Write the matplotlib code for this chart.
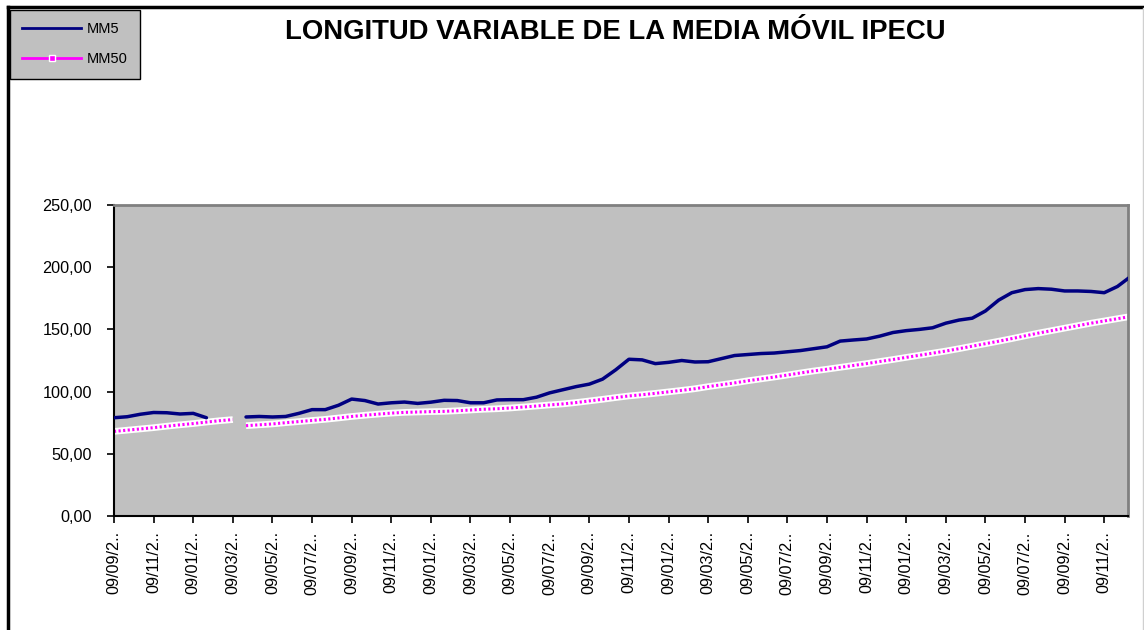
import numpy as np
import matplotlib
matplotlib.use('Agg')
import matplotlib.pyplot as plt
from matplotlib.lines import Line2D

plt.rcParams['font.family'] = ['Liberation Sans', 'DejaVu Sans']

# %% data (3 samples per 2-month tick)
mm5 = [79, 79.8, 81.8, 83.2, 83, 82, 82.5, 79, np.nan, np.nan,
       79.6, 80, 79.6, 80, 82.5, 85.5, 85.5, 89, 94, 92.8,
       90, 91, 91.6, 90.5, 91.5, 93, 92.8, 91, 91, 93.3,
       93.5, 93.5, 95.5, 99, 101.5, 104, 106, 110, 117.5, 126,
       125.5, 122.5, 123.5, 125, 123.8, 124, 126.5, 129, 129.8, 130.6,
       131, 132, 133, 134.5, 136, 140.6, 141.5, 142.3, 144.6, 147.5,
       149, 150, 151.3, 155, 157.5, 159, 164.8, 173.5, 179.5, 182,
       182.8, 182.3, 180.9, 180.9, 180.5, 179.5, 184.5, 192.5]

mm50_a = [68, 69, 70, 71, 72.2, 73.3, 74.3, 75.5, 76.6, 77.5]
mm50_b = [72.6, 73.3, 74, 75, 75.9, 76.8, 77.7, 78.8, 80, 81,
          81.9, 82.7, 83.3, 83.6, 83.9, 84.1, 84.6, 85.2, 85.8, 86.2,
          86.8, 87.6, 88.4, 89.3, 90.1, 91.2, 92.5, 93.8, 95.2, 96.5,
          97.5, 98.6, 99.8, 101, 102.3, 104, 105.5, 107, 108.7, 110.2,
          111.7, 113.3, 115, 116.6, 118, 119.5, 121, 122.5, 124.2, 125.8,
          127.5, 129.2, 130.9, 132.6, 134.5, 136.5, 138.5, 140.5, 142.6, 144.8,
          147, 149, 151, 153, 155, 156.8, 158.6, 160.4]

tick_labels = ['09/09/2..', '09/11/2..', '09/01/2..', '09/03/2..', '09/05/2..',
               '09/07/2..'] + ['09/09/2..', '09/11/2..', '09/01/2..', '09/03/2..',
               '09/05/2..', '09/07/2..'] * 3 + ['09/09/2..', '09/11/2..']
y_ticks = [0, 50, 100, 150, 200, 250]

titulo = 'LONGITUD VARIABLE DE LA MEDIA MÓVIL IPECU'

# %% figure
fig = plt.figure(figsize=(11.44, 6.3), dpi=100)
W, H = 1144, 630
ax = fig.add_axes([114/W, 1 - 516/H, (1128-114)/W, (516-205)/H])
ax.set_facecolor('#c0c0c0')

x5 = np.arange(len(mm5))
xa = np.arange(len(mm50_a))
xb = np.arange(len(mm50_b)) + len(mm50_a)

ax.plot(x5, mm5, color='#000080', lw=2.5, solid_capstyle='round',
        solid_joinstyle='round', zorder=3)
for xs, ys in ((xa, mm50_a), (xb, mm50_b)):
    ax.plot(xs, ys, color='white', lw=4.8, solid_capstyle='butt', zorder=2)
    ax.plot(xs, ys, color='#ff00ff', lw=2.2, dashes=(0.7, 0.8), zorder=2.5)

ax.set_xlim(0, 76.8)
ax.set_ylim(0, 250)
ax.set_yticks(y_ticks)
ax.set_yticklabels([('%.2f' % v).replace('.', ',') for v in y_ticks], fontsize=11.7)
ax.set_xticks(np.arange(len(tick_labels)) * 3)
ax.set_xticklabels(tick_labels, rotation=90, fontsize=11.7)
ax.tick_params(axis='both', direction='out', length=5, width=1.2, color='black')
ax.tick_params(axis='x', pad=6)
ax.tick_params(axis='y', pad=11)

for s in ('top', 'right'):
    ax.spines[s].set_color('#808080')
    ax.spines[s].set_linewidth(2)
for s in ('left', 'bottom'):
    ax.spines[s].set_color('black')
    ax.spines[s].set_linewidth(1.5)

fig.text(615/W, 1 - 32/H, titulo, ha='center', va='center',
         fontsize=19.8, fontweight='bold')

# legend box
handles = [Line2D([], [], color='#000080', lw=2),
           Line2D([], [], color='#ff00ff', lw=2, marker='s', markersize=4,
                  markerfacecolor='#ff00ff', markeredgecolor='white', markeredgewidth=1)]
leg = fig.legend(handles, ['MM5', 'MM50'], loc='upper left',
                 bbox_to_anchor=(10/W, 1 - 10/H), fontsize=10.5,
                 frameon=True, fancybox=False, facecolor='#c0c0c0',
                 edgecolor='black', borderaxespad=0, handlelength=4.0,
                 labelspacing=1.1, borderpad=0.85, handletextpad=0.4)
leg.get_frame().set_linewidth(1)
leg.get_frame().set_alpha(1)

# outer chart border
fig.add_artist(Line2D([8/W, 1], [1 - 7/H, 1 - 7/H], transform=fig.transFigure,
                      color='black', lw=2.5))
fig.add_artist(Line2D([8/W, 8/W], [0, 1 - 7/H], transform=fig.transFigure,
                      color='black', lw=2.5))
fig.add_artist(Line2D([1143/W, 1143/W], [0, 1 - 8/H], transform=fig.transFigure,
                      color='#d0d0d0', lw=1))

fig.savefig('out.png', dpi=100)
